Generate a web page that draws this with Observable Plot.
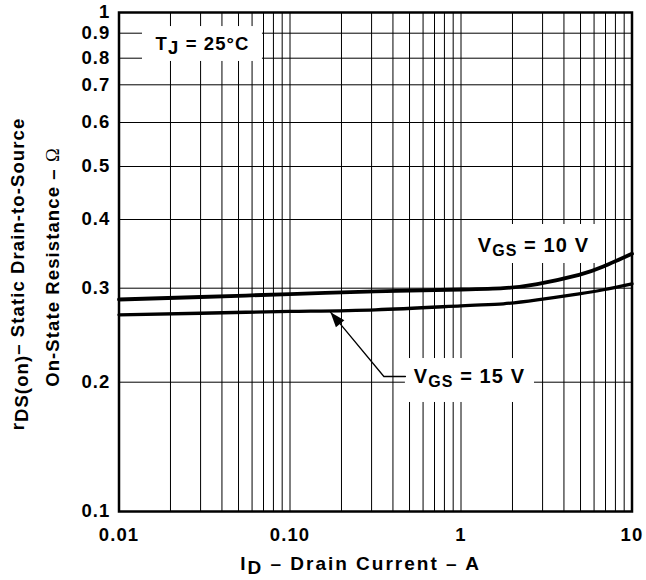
<!DOCTYPE html>
<html>
<head>
<meta charset="utf-8">
<script src="https://cdn.jsdelivr.net/npm/d3@7"></script>
<script src="https://cdn.jsdelivr.net/npm/@observablehq/plot@0.6"></script>
<style>
  body { margin: 0; background: #fff; }
</style>
</head>
<body>
<div id="chart"></div>
<script>
// ---- data ----
const currentVgs10 = [0.01, 0.03, 0.1, 0.316, 1, 1.77, 2.79, 4.9, 6.8, 10];
const rdsVgs10     = [0.2857, 0.2888, 0.2925, 0.2958, 0.2983, 0.300, 0.3053, 0.3173, 0.3285, 0.3465];
const currentVgs15 = [0.01, 0.03, 0.1, 0.316, 1, 1.77, 2.79, 4.9, 6.8, 10];
const rdsVgs15     = [0.2675, 0.2693, 0.2714, 0.2733, 0.278, 0.2805, 0.2853, 0.2928, 0.298, 0.3056];

const xTicks = [0.01, 0.1, 1, 10];
const xTickLabels = ["0.01", "0.10", "1", "10"];
const yTicks = [0.1, 0.2, 0.3, 0.4, 0.5, 0.6, 0.7, 0.8, 0.9, 1];
const yTickLabels = ["0.1", "0.2", "0.3", "0.4", "0.5", "0.6", "0.7", "0.8", "0.9", "1"];
const xGrid = [0.02,0.03,0.04,0.05,0.06,0.07,0.08,0.09,0.1,0.2,0.3,0.4,0.5,0.6,0.7,0.8,0.9,1,2,3,4,5,6,7,8,9];
const yGrid = [0.2, 0.3, 0.4, 0.5, 0.6, 0.7, 0.8, 0.9];

const labelTexts = ["T_{J} = 25°C", "V_{GS} = 10 V", "V_{GS} = 15 V"];
const labelX = [0.0308, 2.65, 1.12];
const labelY = [0.857, 0.358, 0.2045];
const labelSize = [18.5, 20, 20];
// white boxes behind labels (data coords)
const boxX1 = [0.01372, 1.034, 0.473];
const boxX2 = [0.069, 6.54, 2.69];
const boxY1 = [0.787, 0.3327, 0.1794];
const boxY2 = [0.931, 0.3917, 0.2215];
// leader line for V_GS = 15 V
const leaderX = [0.473, 0.354, 0.1725];
const leaderY = [0.205, 0.205, 0.2705];

const yTitle1 = "r_{DS(on)}– Static Drain-to-Source";
const yTitle2 = "On-State Resistance – Ω";
const xTitle = "I_{D} – Drain Current – A";

// ---- tables ----
const rows10 = currentVgs10.map((x, i) => ({x, y: rdsVgs10[i]}));
const rows15 = currentVgs15.map((x, i) => ({x, y: rdsVgs15[i]}));
const labels = labelTexts.map((t, i) => ({t, x: labelX[i], y: labelY[i], s: labelSize[i]}));
const boxes = boxX1.map((x1, i) => ({x1, x2: boxX2[i], y1: boxY1[i], y2: boxY2[i]}));
const leader = leaderX.map((x, i) => ({x, y: leaderY[i]}));
const tip = [{x: leaderX[2], y: leaderY[2]}];
const xFmt = new Map(xTicks.map((d, i) => [d, xTickLabels[i]]));
const yFmt = new Map(yTicks.map((d, i) => [d, yTickLabels[i]]));

// the printed y axis is not a perfect log grid: piecewise log mapping
const yPixel = [511, 381.7, 287.7, 219, 166, 122, 84.3, 57.7, 32.7, 12];

const arrowHead = {
  draw(ctx) { ctx.moveTo(0, 0); ctx.lineTo(-5.5, 15); ctx.lineTo(5.5, 15); ctx.closePath(); }
};

const chart = Plot.plot({
  width: 646,
  height: 580,
  marginLeft: 118.5,
  marginRight: 14.5,
  marginTop: 12,
  marginBottom: 69,
  style: {fontFamily: "'Liberation Sans', Arial, sans-serif", fontWeight: "bold", fontSize: "18.5px", letterSpacing: "1.1px", background: "white", color: "black"},
  x: {type: "log", domain: [0.01, 10]},
  y: {type: "log", domain: yTicks, range: yPixel},
  marks: [
    Plot.ruleX(xGrid, {stroke: "black", strokeWidth: 1}),
    Plot.ruleY(yGrid, {stroke: "black", strokeWidth: 1}),
    Plot.rect(boxes, {x1: "x1", x2: "x2", y1: "y1", y2: "y2", fill: "white"}),
    Plot.line(rows10, {x: "x", y: "y", stroke: "black", strokeWidth: 3.8, curve: "natural"}),
    Plot.line(rows15, {x: "x", y: "y", stroke: "black", strokeWidth: 3.3, curve: "natural"}),
    Plot.line(leader, {x: "x", y: "y", stroke: "black", strokeWidth: 1.3}),
    Plot.dot(tip, {x: "x", y: "y", symbol: arrowHead, fill: "black", stroke: null, rotate: -40, r: 5}),
    Plot.text(labels, {x: "x", y: "y", text: "t", fontSize: "s", textAnchor: "middle", lineAnchor: "middle"}),
    Plot.frame({stroke: "black", strokeWidth: 2.5}),
    Plot.axisX({ticks: xTicks, tickSize: 0, tickPadding: 16, tickFormat: d => xFmt.get(d), label: null, fontSize: 18.5}),
    Plot.axisY({ticks: yTicks, tickSize: 0, tickPadding: 8.5, tickFormat: d => yFmt.get(d), label: null, fontSize: 18.5}),
    Plot.text([yTitle1], {text: d => d, frameAnchor: "left", textAnchor: "middle", dx: -101, dy: 12, rotate: -90, fontSize: 18.5, lineAnchor: "middle"}),
    Plot.text([yTitle2], {text: d => d, frameAnchor: "left", textAnchor: "middle", dx: -66, dy: 5, rotate: -90, fontSize: 18.5, lineAnchor: "middle"}),
    Plot.text([xTitle], {text: d => d, frameAnchor: "bottom", textAnchor: "middle", dx: -15, dy: 52, fontSize: 19, lineAnchor: "middle", className: "xtitle"})
  ]
});

// render subscripts and the Ω glyph as tspans (text stays real text)
chart.querySelectorAll("text").forEach(t => {
  const s = t.textContent;
  if (!/_\{|Ω/.test(s) || t.querySelector("tspan")) return;
  const big = s.startsWith("V_");
  t.textContent = "";
  const re = /_\{([^}]*)\}|Ω/g;
  let last = 0, m, pendingUp = false;
  const add = (txt, attrs) => {
    const ts = document.createElementNS("http://www.w3.org/2000/svg", "tspan");
    ts.textContent = txt;
    for (const k in attrs) ts.setAttribute(k, attrs[k]);
    t.appendChild(ts);
  };
  while ((m = re.exec(s))) {
    if (m.index > last) { add(s.slice(last, m.index), pendingUp ? {dy: "-4"} : {}); pendingUp = false; }
    if (m[0] === "Ω") {
      const a = {"font-weight": "normal", "font-family": "'Liberation Serif', serif"};
      if (pendingUp) a.dy = "-4";
      add("Ω", a);
      pendingUp = false;
    } else {
      add(m[1], big ? {dy: "4", "font-size": "16px"} : {dy: "4"});
      pendingUp = true;
    }
    last = re.lastIndex;
  }
  if (last < s.length) add(s.slice(last), pendingUp ? {dy: "-4"} : {});
});
chart.querySelectorAll(".xtitle text").forEach(t => t.setAttribute("letter-spacing", "2px"));

document.getElementById("chart").appendChild(chart);
</script>
</body>
</html>
